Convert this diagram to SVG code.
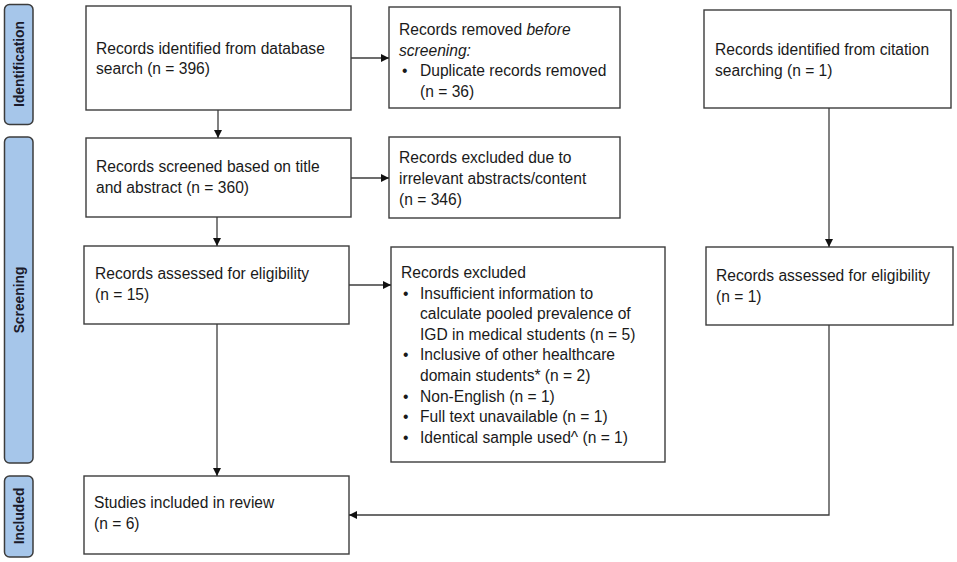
<svg xmlns="http://www.w3.org/2000/svg" width="957" height="562" viewBox="0 0 957 562">
<style>
.bar{fill:#a6c6ea;stroke:#3c3c3c;stroke-width:1.5}
.box{fill:#fff;stroke:#3c3c3c;stroke-width:1.4}
.lbl{font-family:"Liberation Sans",Arial,sans-serif;font-weight:bold;font-size:13.8px;fill:#1a1a2a;text-anchor:middle;dominant-baseline:central}
.t{font-family:"Liberation Sans",Arial,sans-serif;font-size:15.6px;fill:#1a1a1a}
.con{fill:none;stroke:#3c3c3c;stroke-width:1.3}
</style>
<defs>
<marker id="ah" viewBox="0 0 10 10" refX="10" refY="5" markerWidth="8" markerHeight="8" markerUnits="userSpaceOnUse" orient="auto">
<path d="M0,0 L10,5 L0,10 z" fill="#111"/>
</marker>
</defs>
<rect width="957" height="562" fill="#fff"/>
<g id="bar-identification"><rect class="bar" x="4.5" y="4.5" width="28.5" height="120" rx="5"/><text class="lbl" transform="translate(19,64) rotate(-90)">Identification</text></g>
<g id="bar-screening"><rect class="bar" x="4.5" y="137" width="28.5" height="326" rx="5"/><text class="lbl" transform="translate(19,300) rotate(-90)">Screening</text></g>
<g id="bar-included"><rect class="bar" x="4.5" y="476" width="28.5" height="81" rx="5"/><text class="lbl" transform="translate(19,516) rotate(-90)">Included</text></g>

<g id="n-db"><rect class="box" x="86" y="6" width="265" height="104"/><text class="t" x="96" y="53.5">Records identified from database</text><text class="t" x="96" y="74">search (n = 396)</text></g>
<g id="n-removed"><rect class="box" x="389" y="7" width="231" height="101"/><text class="t" x="399" y="35">Records removed <tspan font-style="italic">before</tspan></text><text class="t" x="399" y="55.6" font-style="italic">screening:</text><text class="t" x="402" y="76.2">•</text><text class="t" x="420" y="76.2">Duplicate records removed</text><text class="t" x="420" y="96.8">(n = 36)</text></g>
<g id="n-citation"><rect class="box" x="704" y="10" width="247" height="98"/><text class="t" x="715" y="55">Records identified from citation</text><text class="t" x="715" y="76">searching (n = 1)</text></g>
<g id="n-screened"><rect class="box" x="86" y="138" width="265" height="79"/><text class="t" x="96" y="172">Records screened based on title</text><text class="t" x="96" y="193">and abstract (n = 360)</text></g>
<g id="n-excl346"><rect class="box" x="389" y="137" width="231" height="81"/><text class="t" x="399" y="163">Records excluded due to</text><text class="t" x="399" y="184">irrelevant abstracts/content</text><text class="t" x="399" y="204.5">(n = 346)</text></g>
<g id="n-assessed15"><rect class="box" x="84" y="246" width="265" height="78"/><text class="t" x="95" y="279">Records assessed for eligibility</text><text class="t" x="95" y="300">(n = 15)</text></g>
<g id="n-excluded"><rect class="box" x="391" y="247" width="274" height="215"/>
<text class="t" x="401" y="278">Records excluded</text>
<text class="t" x="403" y="298.6">•</text><text class="t" x="420" y="298.6">Insufficient information to</text>
<text class="t" x="420" y="319.2">calculate pooled prevalence of</text>
<text class="t" x="420" y="339.8">IGD in medical students (n = 5)</text>
<text class="t" x="403" y="360.4">•</text><text class="t" x="420" y="360.4">Inclusive of other healthcare</text>
<text class="t" x="420" y="381">domain students* (n = 2)</text>
<text class="t" x="403" y="401.6">•</text><text class="t" x="420" y="401.6">Non-English (n = 1)</text>
<text class="t" x="403" y="422.2">•</text><text class="t" x="420" y="422.2">Full text unavailable (n = 1)</text>
<text class="t" x="403" y="442.8">•</text><text class="t" x="420" y="442.8">Identical sample used^ (n = 1)</text>
</g>
<g id="n-assessed1"><rect class="box" x="706" y="247" width="247" height="78"/><text class="t" x="716" y="281">Records assessed for eligibility</text><text class="t" x="716" y="302">(n = 1)</text></g>
<g id="n-included"><rect class="box" x="84" y="476" width="265" height="78"/><text class="t" x="94" y="508">Studies included in review</text><text class="t" x="94" y="529">(n = 6)</text></g>

<g id="connectors">
<line class="con" x1="351" y1="58" x2="389" y2="58" marker-end="url(#ah)"/>
<line class="con" x1="351" y1="178" x2="389" y2="178" marker-end="url(#ah)"/>
<line class="con" x1="349" y1="285" x2="391" y2="285" marker-end="url(#ah)"/>
<line class="con" x1="218" y1="110" x2="218" y2="138" marker-end="url(#ah)"/>
<line class="con" x1="217" y1="217" x2="217" y2="246" marker-end="url(#ah)"/>
<line class="con" x1="217" y1="324" x2="217" y2="476" marker-end="url(#ah)"/>
<line class="con" x1="829" y1="108" x2="829" y2="247" marker-end="url(#ah)"/>
<polyline class="con" points="829,325 829,515 349,515" marker-end="url(#ah)"/>
</g>
</svg>
